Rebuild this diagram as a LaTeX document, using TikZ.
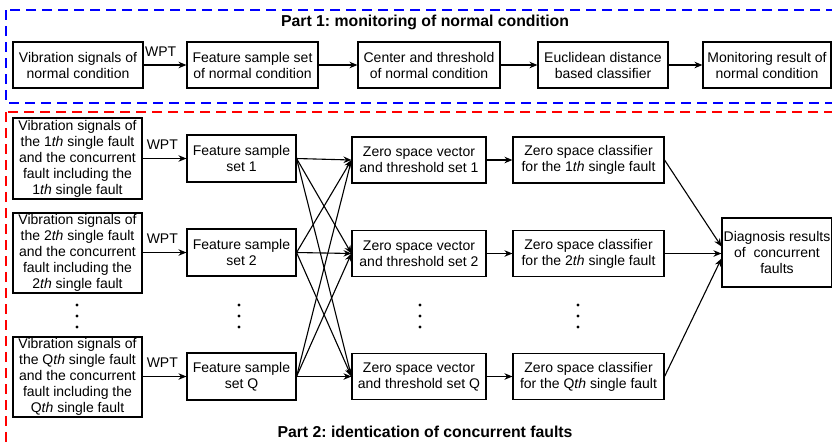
\documentclass[tikz,border=0pt]{standalone}
\usepackage{fontspec}
\setmainfont{Liberation Sans}
\usetikzlibrary{arrows.meta}
\frenchspacing
\begin{document}
\begin{tikzpicture}[x=1pt,y=-1pt,
  box/.style={draw,line width=1.1pt,inner sep=0pt,align=center,font=\fontsize{14}{16}\selectfont},
  arr/.style={line width=1.1pt,-{Stealth[length=8pt,width=6.5pt]}},
  lbl/.style={font=\fontsize{14}{16}\selectfont,inner sep=0pt},
  ttl/.style={font=\fontsize{15.8}{18}\selectfont\bfseries,inner sep=0pt},
  dot/.style={fill=black}]
\useasboundingbox (0,0) rectangle (832,445);
% dashed frames
\draw[blue,line width=2pt,dash pattern=on 10pt off 6pt] (6,10) rectangle (840,103);
\draw[red,line width=2pt,dash pattern=on 10pt off 6pt] (6,112) rectangle (840,452);
\node[ttl] (t1) at (425,22) {Part 1: monitoring of normal condition};
\node[ttl] (t2) at (425,432) {Part 2: identication of concurrent faults};
% Part 1
\node[box,minimum width=130pt,minimum height=46pt] (n1) at (78,65) {Vibration signals of\\normal condition};
\node[box,minimum width=131pt,minimum height=46pt] (n2) at (252.5,65) {Feature sample set\\of normal condition};
\node[box,minimum width=142pt,minimum height=46pt] (n3) at (429,65) {Center and threshold\\of normal condition};
\node[box,minimum width=130pt,minimum height=46pt] (n4) at (603,65) {Euclidean distance\\based classifier};
\node[box,minimum width=128pt,minimum height=46pt] (n5) at (767,65) {Monitoring result of\\normal condition};
\draw[arr] (n1) -- node[lbl,pos=0.4,above=8pt] (w0) {WPT} (n2);
\draw[arr] (n2) -- (n3);
\draw[arr] (n3) -- (n4);
\draw[arr] (n4) -- (n5);
% Part 2 left column
\node[box,minimum width=129pt,minimum height=81pt] (l1) at (77.5,158.5) {Vibration signals of\\the 1\textit{th} single fault\\and the concurrent\\fault including the\\1\textit{th} single fault};
\node[box,minimum width=129pt,minimum height=80pt] (l2) at (77.5,253) {Vibration signals of\\the 2\textit{th} single fault\\and the concurrent\\fault including the\\2\textit{th} single fault};
\node[box,minimum width=129pt,minimum height=80pt] (lq) at (77.5,377) {Vibration signals of\\the Q\textit{th} single fault\\and the concurrent\\fault including the\\Q\textit{th} single fault};
% features
\node[box,minimum width=109pt,minimum height=47pt] (f1) at (241.5,158.5) {Feature sample\\set 1};
\node[box,minimum width=109pt,minimum height=47pt] (f2) at (241.5,252.5) {Feature sample\\set 2};
\node[box,minimum width=109pt,minimum height=47pt] (fq) at (241.5,376.5) {Feature sample\\set Q};
% zero space vectors
\node[box,minimum width=134pt,minimum height=46pt] (z1) at (419,160) {Zero space vector\\and threshold set 1};
\node[box,minimum width=134pt,minimum height=46pt] (z2) at (419,253.5) {Zero space vector\\and threshold set 2};
\node[box,minimum width=134pt,minimum height=46pt] (zq) at (419,376.5) {Zero space vector\\and threshold set Q};
% classifiers
\node[box,minimum width=151pt,minimum height=46pt] (c1) at (588.5,160) {Zero space classifier\\for the 1\textit{th} single fault};
\node[box,minimum width=151pt,minimum height=46pt] (c2) at (588.5,253.5) {Zero space classifier\\for the 2\textit{th} single fault};
\node[box,minimum width=151pt,minimum height=46pt] (cq) at (588.5,376.5) {Zero space classifier\\for the Q\textit{th} single fault};
% diagnosis
\node[box,minimum width=110pt,minimum height=69pt] (dg) at (777,252.5) {Diagnosis results\\of~ concurrent\\faults};
% WPT arrows
\draw[arr] (l1.east |- f1) -- node[lbl,pos=0.45,above=8pt] (w1) {WPT} (f1);
\draw[arr] (l2.east |- f2) -- node[lbl,pos=0.45,above=8pt] (w2) {WPT} (f2);
\draw[arr] (lq.east |- fq) -- node[lbl,pos=0.45,above=8pt] (wq) {WPT} (fq);
% cross arrows
\foreach \f in {f1,f2,fq}{
  \foreach \z in {z1,z2,zq}{
    \draw[arr] (\f.east) -- (\z.west);
  }
}
% zs to classifier
\draw[arr] (z1) -- (c1);
\draw[arr] (z2) -- (c2);
\draw[arr] (zq) -- (cq);
% classifiers to diagnosis
\draw[arr] (c1.east) -- ([yshift=6pt]dg.west);
\draw[arr] (c2.east) -- (dg.west |- c2.east);
\draw[arr] (cq.east) -- ([yshift=-6pt]dg.west);
% vertical dots
\foreach \x in {77,239,420,578}{
  \foreach \y in {305,316,327}{
    \fill[dot] (\x,\y) circle (1.6pt);
  }
}
\end{tikzpicture}
\end{document}
